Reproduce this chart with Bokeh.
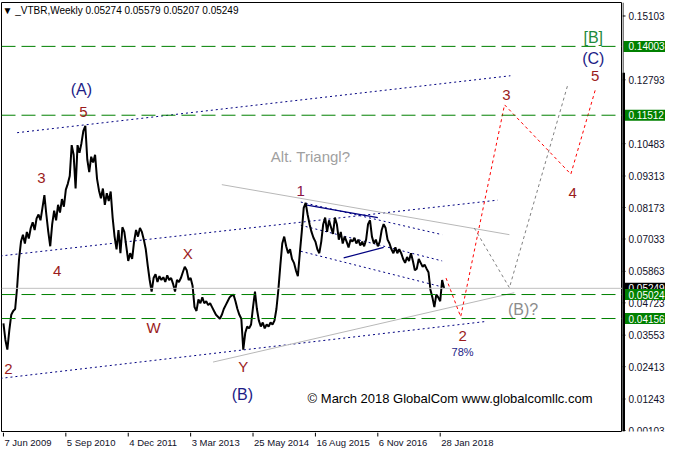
from bokeh.plotting import figure
from bokeh.layouts import row, column
from bokeh.models import Range1d, Span, Label
from bokeh.core.properties import value
from bokeh.embed import file_html
from bokeh.resources import INLINE

# ---------------- data ----------------
# weekly closes (every 2nd bar), VTBR, from 7 Jun 2009
close = [
    0.0398, 0.0338, 0.0303, 0.0373, 0.0429, 0.0443, 0.0450, 0.0527, 0.0631,
    0.0694, 0.0719, 0.0687, 0.0729, 0.0705, 0.0743, 0.0764, 0.0736, 0.0778, 0.0792,
    0.0771, 0.0816, 0.0862, 0.0792, 0.0729, 0.0677, 0.0757, 0.0806, 0.0771, 0.0827,
    0.0799, 0.0848, 0.0820, 0.0882, 0.0903, 0.0931, 0.1043, 0.1008, 0.0886, 0.1043,
    0.1015, 0.1050, 0.1095, 0.1113, 0.0991, 0.0945, 0.1001, 0.0980, 0.1008, 0.0921,
    0.0879, 0.0851, 0.0886, 0.0827, 0.0869, 0.0841, 0.0875, 0.0781, 0.0712, 0.0666,
    0.0736, 0.0652, 0.0746, 0.0729, 0.0677, 0.0624, 0.0652, 0.0631, 0.0694, 0.0736,
    0.0712, 0.0743, 0.0729, 0.0701, 0.0666, 0.0607, 0.0555, 0.0513, 0.0562, 0.0576,
    0.0548, 0.0569, 0.0555, 0.0565, 0.0548, 0.0572, 0.0555, 0.0562, 0.0541, 0.0513,
    0.0555, 0.0548, 0.0562, 0.0583, 0.0603, 0.0590, 0.0555, 0.0562, 0.0534, 0.0457,
    0.0443, 0.0485, 0.0471, 0.0492, 0.0471, 0.0478, 0.0464, 0.0471, 0.0457, 0.0443,
    0.0429, 0.0422, 0.0415, 0.0429, 0.0450, 0.0464, 0.0478, 0.0492, 0.0499, 0.0502,
    0.0478, 0.0450, 0.0429, 0.0415, 0.0303, 0.0363, 0.0387, 0.0380, 0.0394, 0.0457,
    0.0513, 0.0450, 0.0408, 0.0387, 0.0401, 0.0380, 0.0394, 0.0387, 0.0401, 0.0394,
    0.0408, 0.0450, 0.0520, 0.0607, 0.0687, 0.0712, 0.0677, 0.0652, 0.0666, 0.0631,
    0.0617, 0.0590, 0.0569, 0.0652, 0.0729, 0.0816, 0.0834, 0.0792, 0.0757, 0.0729,
    0.0708, 0.0694, 0.0666, 0.0652, 0.0694, 0.0757, 0.0781, 0.0729, 0.0771, 0.0746,
    0.0722, 0.0781, 0.0757, 0.0701, 0.0729, 0.0687, 0.0712, 0.0694, 0.0673, 0.0701,
    0.0694, 0.0708, 0.0687, 0.0701, 0.0680, 0.0694, 0.0677, 0.0701, 0.0757, 0.0771,
    0.0712, 0.0687, 0.0701, 0.0677, 0.0694, 0.0736, 0.0757, 0.0743, 0.0701, 0.0687,
    0.0666, 0.0652, 0.0673, 0.0652, 0.0666, 0.0652, 0.0631, 0.0617, 0.0638, 0.0624,
    0.0652, 0.0624, 0.0590, 0.0596, 0.0631, 0.0617, 0.0603, 0.0610, 0.0596, 0.0583,
    0.0520, 0.0492, 0.0457, 0.0502, 0.0492, 0.0478, 0.0555, 0.0525,
]
bars = list(range(0, 2 * len(close), 2))

tick_bars = [0, 64, 128, 192, 256, 320, 384, 448]
tick_labels = ["7 Jun 2009", "5 Sep 2010", "4 Dec 2011", "3 Mar 2013",
               "25 May 2014", "16 Aug 2015", "6 Nov 2016", "28 Jan 2018"]

price_ticks = [0.15103, 0.12793, 0.10483, 0.09313, 0.08173, 0.07033,
               0.05863, 0.04723, 0.03553, 0.02413, 0.01243, 0.00103]

levels = [0.14003, 0.11512, 0.05024, 0.04156]
last_price = 0.05249
header = "\u25BC _VTBR,Weekly  0.05274 0.05579 0.05207 0.05249"

# channel / trend lines (bar, price)
navy_dotted = [
    ([14, 520], [0.1088, 0.1294]),
    ([-3, 507], [0.0642, 0.0844]),
    ([-3, 495], [0.0199, 0.0405]),
    ([305, 450], [0.0837, 0.0719]),
    ([305, 450], [0.0753, 0.0624]),
    ([305, 450], [0.0659, 0.0530]),
]
navy_solid = [
    ([310, 384], [0.0827, 0.0781]),
    ([349, 390], [0.0635, 0.0673]),
]
grey_solid = [
    ([224, 519], [0.0900, 0.0719]),
    ([215, 524], [0.0258, 0.0509]),
]
grey_path_x = [483, 519, 579]
grey_path_y = [0.0743, 0.0527, 0.1263]
red_path_x = [454, 469, 514, 582, 607]
red_path_y = [0.0562, 0.0422, 0.1189, 0.0938, 0.1242]
scroll_top = 0.1305

WAVE = "#9b1c1c"
NAVY = "#1c1c86"
wave_labels = [
    ("(A)", 80, 0.1245, NAVY, "16px"),
    ("5", 82, 0.1162, WAVE, "15px"),
    ("3", 39, 0.0924, WAVE, "15px"),
    ("4", 55, 0.0589, WAVE, "15px"),
    ("X", 189, 0.0652, WAVE, "15px"),
    ("W", 154, 0.0384, WAVE, "15px"),
    ("Y", 246, 0.0241, WAVE, "15px"),
    ("(B)", 245, 0.0140, NAVY, "16px"),
    ("Alt. Triangl?", 315, 0.1001, "#a0a0a0", "15px"),
    ("1", 305, 0.0876, "#8a1446", "15px"),
    ("2", 471, 0.0352, WAVE, "15px"),
    ("78%", 471, 0.0293, NAVY, "11px"),
    ("(B)?", 533, 0.0450, "#8c8c8c", "16px"),
    ("3", 516, 0.1224, WAVE, "15px"),
    ("4", 584, 0.0869, WAVE, "15px"),
    ("5", 607, 0.1294, WAVE, "15px"),
    ("(C)", 605, 0.1357, NAVY, "16px"),
    ("[B]", 605, 0.1434, "#1f8a3c", "16px"),
    ("2", 5, 0.0234, WAVE, "15px"),
]
copyright_text = "\u00A9 March 2018 GlobalCom www.globalcomllc.com"

TOTAL_W, TOTAL_H = 665, 453
TOP = 2
AXIS_H = 21
RIGHT_W = 43
MAIN_W = TOTAL_W - RIGHT_W
yr = Range1d(0.00068, 0.15591)
xr = Range1d(-2, 635)

# ---------------- main figure ----------------
p = figure(width=MAIN_W, height=TOTAL_H - AXIS_H, output_backend="svg", toolbar_location=None,
           x_range=xr, y_range=yr, x_axis_location=None, y_axis_location=None,
           min_border=0, min_border_left=1, min_border_right=0,
           min_border_top=TOP, min_border_bottom=1)
p.grid.visible = False
p.outline_line_color = "black"
p.background_fill_color = "white"
p.border_fill_color = "white"

# horizontal levels
p.add_layout(Span(location=last_price, dimension="width", line_color="#c0c0c0", line_width=1))
for lv in levels:
    p.add_layout(Span(location=lv, dimension="width", line_color="#008000",
                      line_width=1, line_dash="14 6"))

# channel lines
for xs, ys in navy_dotted:
    p.line(xs, ys, line_color="#000080", line_width=1, line_dash="2 3")
for xs, ys in navy_solid:
    p.line(xs, ys, line_color="#000080", line_width=1.2)
for xs, ys in grey_solid:
    p.line(xs, ys, line_color="#b8b8b8", line_width=1)
p.line(grey_path_x, grey_path_y, line_color="#808080", line_width=1, line_dash="3 3")
p.line(red_path_x, red_path_y, line_color="#ff0000", line_width=1, line_dash="3 3")

# price
p.line(bars, close, line_color="black", line_width=2)

# labels
for txt, bx, by, col, fs in wave_labels:
    p.add_layout(Label(x=bx, y=by, text=txt, text_color=col, text_font="Liberation Sans",
                       text_font_size=fs, text_align="center", text_baseline="middle"))
p.add_layout(Label(x=312, y=0.0126, text=copyright_text, text_color="black",
                   text_font="Liberation Sans", text_font_size="13px",
                   text_align="left", text_baseline="middle"))
p.add_layout(Label(x=-1, y=yr.end, y_offset=-2, text=header, text_color="black",
                   text_font="Liberation Sans", text_font_size="10px",
                   text_align="left", text_baseline="top",
                   background_fill_color="white"))

# ---------------- time scale below ----------------
b = figure(width=MAIN_W, height=AXIS_H, output_backend="svg", toolbar_location=None,
           x_range=xr, y_range=Range1d(0, AXIS_H), x_axis_location=None, y_axis_location=None,
           min_border=0, min_border_left=1, min_border_right=0)
b.grid.visible = False
b.outline_line_color = None
b.background_fill_color = "white"
b.border_fill_color = "white"
b.segment(x0=tick_bars, x1=tick_bars, y0=[AXIS_H] * len(tick_bars), y1=[AXIS_H - 4] * len(tick_bars),
          line_color="black", line_width=1)
b.text(x=tick_bars, y=[AXIS_H - 4] * len(tick_bars), text=tick_labels, x_offset=1,
       text_font=value("Liberation Sans"), text_font_size="9.5px", text_color="#101028",
       text_align="left", text_baseline="top")

# ---------------- right price scale ----------------
s = figure(width=RIGHT_W, height=TOTAL_H, output_backend="svg", toolbar_location=None,
           x_range=Range1d(0, RIGHT_W), y_range=yr, x_axis_location=None, y_axis_location=None,
           min_border=0, min_border_top=TOP, min_border_bottom=AXIS_H + 1)
s.grid.visible = False
s.outline_line_color = None
s.background_fill_color = "white"
s.border_fill_color = "white"

s.segment(x0=[0] * len(price_ticks), x1=[3] * len(price_ticks), y0=price_ticks, y1=price_ticks,
          line_color="black", line_width=1)
s.text(x=[6] * len(price_ticks), y=price_ticks, text=[f"{t:.5f}" for t in price_ticks],
       text_font=value("Liberation Sans"), text_font_size="10px", text_color="#101028",
       text_align="left", text_baseline="middle")

s.rect(x=[RIGHT_W / 2 + 0.5], y=[last_price], width=RIGHT_W - 1, height=11, height_units="screen",
       fill_color="black", line_color=None)
s.text(x=[6], y=[last_price], text=[f"{last_price:.5f}"], text_font=value("Liberation Sans"),
       text_font_size="10px", text_color="white", text_align="left", text_baseline="middle")
s.rect(x=[RIGHT_W / 2 + 0.5] * len(levels), y=levels, width=RIGHT_W - 1, height=11,
       height_units="screen", fill_color="#008000", line_color=None)
s.text(x=[6] * len(levels), y=levels, text=[f"{lv:.5f}" for lv in levels],
       text_font=value("Liberation Sans"), text_font_size="10px", text_color="white",
       text_align="left", text_baseline="middle")

# axis line with the thick scroll bar
s.segment(x0=[0.5], x1=[0.5], y0=[yr.start], y1=[yr.end], line_color="black", line_width=1)
s.segment(x0=[1], x1=[1], y0=[yr.start], y1=[scroll_top], line_color="black", line_width=3)

layout = row(column(p, b, spacing=0), s, spacing=0)
open("out.html", "w").write(file_html(layout, INLINE))
